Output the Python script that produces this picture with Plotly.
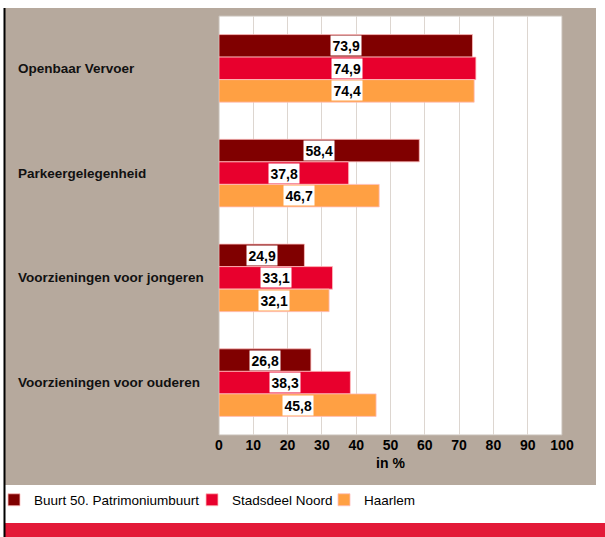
import plotly.graph_objects as go

categories = ["Openbaar Vervoer", "Parkeergelegenheid", "Voorzieningen voor jongeren", "Voorzieningen voor ouderen"]
series_names = ["Buurt 50. Patrimoniumbuurt", "Stadsdeel Noord", "Haarlem"]
buurt = [73.9, 58.4, 24.9, 26.8]
noord = [74.9, 37.8, 33.1, 38.3]
haarlem = [74.4, 46.7, 32.1, 45.8]
x_ticks = [0, 10, 20, 30, 40, 50, 60, 70, 80, 90, 100]
x_title = "in %"

colors = ["#800000", "#e8002d", "#ffa043"]
TAN = "#b6a99d"
SANS = "Liberation Sans, Arial, sans-serif"

W, H = 605, 537
L, R, T, B = 219, 43, 16, 102
pw, ph = W - L - R, H - T - B

def px(x):
    return (x - L) / pw

def py(y):
    return (H - B - y) / ph

fig = go.Figure()
all_vals = [buurt, noord, haarlem]
legend_ids = ["legend", "legend2", "legend3"]
for name, vals, col, lg in zip(series_names, all_vals, colors, legend_ids):
    fig.add_trace(go.Bar(
        y=categories, x=vals, name=name, orientation="h", legend=lg,
        marker=dict(color=col, line=dict(color="rgba(255,190,190,0.8)", width=1)),
        hoverinfo="x+name",
    ))

bar_px = 22.5
shifts = [bar_px, 0, -bar_px]
for vals, sh in zip(all_vals, shifts):
    for c, v in zip(categories, vals):
        fig.add_annotation(
            x=v / 2, y=c, xref="x", yref="y", yshift=sh,
            text=f"{v:.1f}".replace(".", ","),
            showarrow=False, bgcolor="white", borderpad=1.5,
            font=dict(family=SANS, size=14, color="black", weight="bold"),
        )

for c in categories:
    fig.add_annotation(
        x=px(16), y=c, xref="paper", yref="y", xanchor="left",
        text=c, showarrow=False,
        font=dict(family=SANS, size=13.5, color="#111111", weight="bold"),
    )

shapes = [
    dict(type="rect", xref="paper", yref="paper", x0=px(5), x1=px(596), y0=py(485), y1=py(8),
         fillcolor=TAN, line=dict(width=0), layer="below"),
    dict(type="rect", xref="paper", yref="paper", x0=0, x1=1, y0=0, y1=1,
         fillcolor="white", line=dict(color="#c8c0b8", width=1), layer="below"),
    dict(type="rect", xref="paper", yref="paper", x0=px(5), x1=px(610), y0=py(545), y1=py(523),
         fillcolor="#e31a38", line=dict(width=0), layer="below"),
    dict(type="line", xref="paper", yref="paper", x0=px(4.5), x1=px(4.5), y0=py(545), y1=py(8),
         line=dict(color="black", width=2), layer="above"),
]

def legend_at(left):
    return dict(orientation="h", x=px(left), y=py(500), xanchor="left", yanchor="middle",
                font=dict(family=SANS, size=13.5, color="black"),
                bgcolor="rgba(0,0,0,0)", itemwidth=30)

fig.update_layout(
    width=W, height=H,
    margin=dict(l=L, r=R, t=T, b=B, pad=0, autoexpand=False),
    paper_bgcolor="white", plot_bgcolor="white",
    barmode="group", bargap=0.355, bargroupgap=0,
    shapes=shapes,
    showlegend=True,
    legend=legend_at(-6),
    legend2=legend_at(192),
    legend3=legend_at(324),
    xaxis=dict(range=[0, 100], tickvals=x_ticks, ticktext=[str(t) for t in x_ticks],
               showgrid=True, gridcolor="#ddd6d0", gridwidth=1, zeroline=False,
               showline=False, ticks="", ticklen=0,
               tickfont=dict(family=SANS, size=14, color="black", weight="bold"),
               title=dict(text=x_title, standoff=6,
                          font=dict(family=SANS, size=14, color="black", weight="bold")),
               fixedrange=True),
    yaxis=dict(autorange="reversed", showticklabels=False, showgrid=False,
               ticks="", fixedrange=True),
)

fig.write_html("out.html", config={"displayModeBar": False},
               post_script="document.body.style.margin='0';")
